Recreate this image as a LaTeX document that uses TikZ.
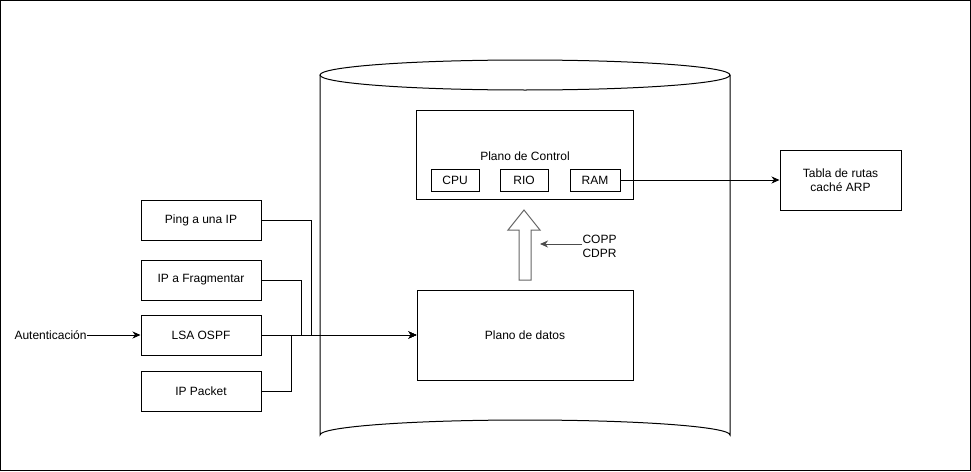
\documentclass[tikz,border=0pt]{standalone}
\usepackage{fontspec}
\setmainfont{Liberation Sans}
\usetikzlibrary{arrows.meta,calc}
\begin{document}
\begin{tikzpicture}[x=1pt,y=-1pt,line width=1pt,
  every node/.style={font=\fontsize{12}{14}\selectfont},
  box/.style={draw,fill=white,inner sep=0pt,minimum width=120pt,minimum height=40pt},
  smallbox/.style={draw,fill=white,inner sep=0pt,minimum width=48pt,minimum height=22pt},
  arr/.style={-{Stealth[length=8pt,width=7pt,inset=2.5pt]}},
  plain/.style={}]
\useasboundingbox (0,0) rectangle (971,471);
\draw (0.5,0.5) rectangle (970.5,470.5);
% cylinder
\draw[fill=white] (320,75) -- (320,435) arc[start angle=180,end angle=360,x radius=205,y radius=15] -- (730,75);
\draw[fill=white] (525,75) ellipse[x radius=205,y radius=15];
% control plane
\node[draw,minimum width=217pt,minimum height=89pt,inner sep=0pt] (control) at (524.5,154.5) {};
\node (ctitle) at (525,156) {Plano de Control};
\node[smallbox] (cpu) at (455,180) {CPU};
\node[smallbox] (rio) at (524,180) {RIO};
\node[smallbox,minimum width=50pt] (ram) at (595,180) {RAM};
\node[draw,align=center,minimum width=121pt,minimum height=60pt,inner sep=0pt] (tabla) at (840.5,180) {Tabla de rutas\\cach\'e ARP};
\draw[arr] (ram.east) -- (tabla.west);
% data plane
\node[draw,minimum width=216pt,minimum height=90pt,inner sep=0pt] (datos) at (525,335) {Plano de datos};
% block arrow
\draw[draw=black!60,fill=white] (519,280) -- (519,230) -- (508,230) -- (524,210) -- (540,230) -- (531,230) -- (531,280) -- cycle;
\node[anchor=west,align=left,inner sep=0pt] (copp) at (582,246) {COPP\\CDPR};
\coordinate (coppend) at (540,244);
\draw[arr,draw=black!70,fill=black] (copp.west |- coppend) -- (coppend);
% left boxes
\node[box] (ping) at (201,220) {Ping a una IP};
\node[box] (frag) at (201,280) {IP a Fragmentar};
\node[box] (lsa) at (201,335) {LSA OSPF};
\node[box] (packet) at (201,391) {IP Packet};
\node[anchor=west,inner sep=0pt] (auth) at (14,335) {Autenticaci\'on};
\draw[arr] (auth.east) -- (lsa.west);
\draw[arr] (ping.east) -- ++(50,0) |- (datos.west);
\draw[arr] (frag.east) -- ++(40,0) |- (datos.west);
\draw[arr] (packet.east) -- ++(30,0) |- (datos.west);
\draw[arr] (lsa.east) -- (datos.west);
\end{tikzpicture}
\end{document}
